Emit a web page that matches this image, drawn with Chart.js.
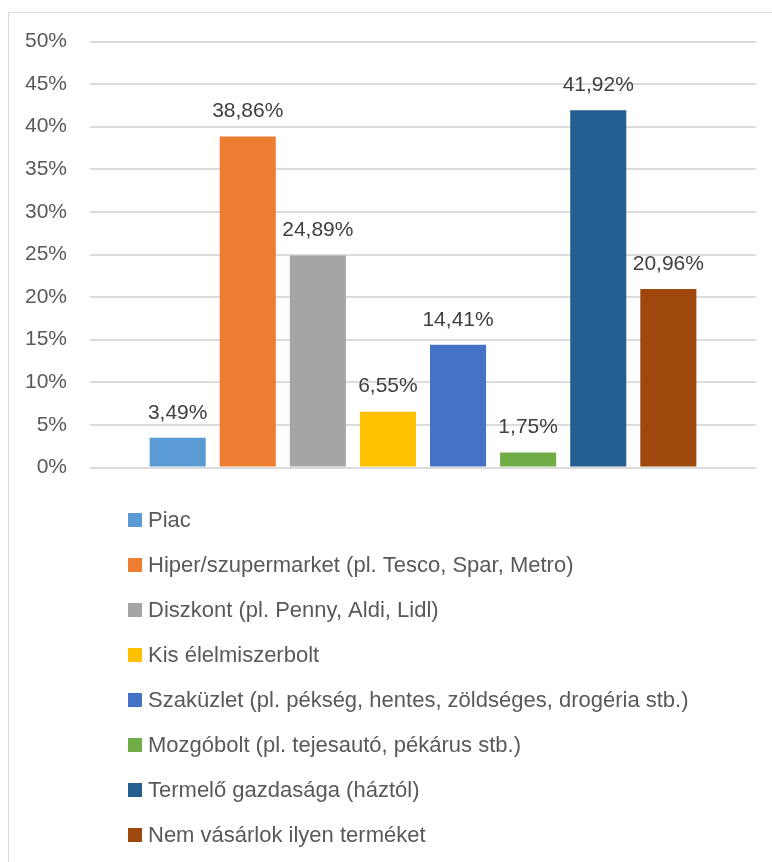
<!DOCTYPE html>
<html>
<head>
<meta charset="utf-8">
<script src="https://cdn.jsdelivr.net/npm/chart.js@4/dist/chart.umd.min.js"></script>
<style>
  html, body { margin: 0; padding: 0; background: #ffffff; overflow: hidden; }
  #wrap { position: relative; width: 772px; height: 862px; }
  #frame { position: absolute; left: 8px; top: 12px; width: 900px; height: 1000px; border: 1px solid #d9d9d9; box-sizing: border-box; }
  #c { position: absolute; left: 0; top: 0; }
</style>
</head>
<body>
<div id="wrap">
  <div id="frame"></div>
  <canvas id="c" width="772" height="862"></canvas>
</div>
<script>
const categories = [''];
const seriesNames = [
  'Piac',
  'Hiper/szupermarket (pl. Tesco, Spar, Metro)',
  'Diszkont (pl. Penny, Aldi, Lidl)',
  'Kis élelmiszerbolt',
  'Szaküzlet (pl. pékség, hentes, zöldséges, drogéria stb.)',
  'Mozgóbolt (pl. tejesautó, pékárus stb.)',
  'Termelő gazdasága (háztól)',
  'Nem vásárlok ilyen terméket'
];
const seriesValues = [3.49, 38.86, 24.89, 6.55, 14.41, 1.75, 41.92, 20.96];
const seriesColors = ['#5B9BD5', '#ED7D31', '#A5A5A5', '#FFC000', '#4472C4', '#70AD47', '#255E91', '#9E480E'];
const yTickMax = 50;
const yTickStep = 5;

const FONT = '"Liberation Sans", Arial, sans-serif';

const datasets = seriesNames.map((name, i) => ({
  label: name,
  data: [seriesValues[i]],
  backgroundColor: seriesColors[i],
  borderWidth: 0,
  categoryPercentage: 0.842,
  barPercentage: 0.8
}));

const fmt = v => v.toFixed(2).replace('.', ',') + '%';

const valueLabels = {
  id: 'valueLabels',
  afterDatasetsDraw(chart) {
    const ctx = chart.ctx;
    ctx.save();
    ctx.font = '21px ' + FONT;
    ctx.fillStyle = '#404040';
    ctx.textAlign = 'center';
    ctx.textBaseline = 'middle';
    chart.data.datasets.forEach((ds, i) => {
      const meta = chart.getDatasetMeta(i);
      meta.data.forEach((el, j) => {
        ctx.fillText(fmt(ds.data[j]), el.x, el.y - 25);
      });
    });
    ctx.restore();
  }
};

const listLegend = {
  id: 'listLegend',
  afterDraw(chart) {
    const ctx = chart.ctx;
    ctx.save();
    ctx.font = '22px ' + FONT;
    ctx.textAlign = 'left';
    ctx.textBaseline = 'middle';
    chart.data.datasets.forEach((ds, i) => {
      const y = 520 + i * 45;
      ctx.fillStyle = ds.backgroundColor;
      ctx.fillRect(128, y - 7, 14, 14);
      ctx.fillStyle = '#595959';
      ctx.fillText(ds.label, 148, y + 1);
    });
    ctx.restore();
  }
};

new Chart(document.getElementById('c'), {
  type: 'bar',
  data: { labels: categories, datasets: datasets },
  options: {
    responsive: false,
    animation: false,
    devicePixelRatio: 1,
    layout: { padding: { top: 41.5, right: 16, bottom: 394.5, left: 0 } },
    plugins: {
      legend: { display: false },
      tooltip: { enabled: false }
    },
    scales: {
      x: { display: false },
      y: {
        min: 0,
        max: yTickMax,
        afterFit(scale) { scale.width = 90; },
        ticks: {
          stepSize: yTickStep,
          padding: 23,
          color: '#595959',
          font: { family: FONT, size: 21 },
          callback: v => v + '%'
        },
        grid: { color: '#dcdcdc', lineWidth: 2, drawTicks: false },
        border: { display: false }
      }
    }
  },
  plugins: [valueLabels, listLegend]
});
</script>
</body>
</html>
